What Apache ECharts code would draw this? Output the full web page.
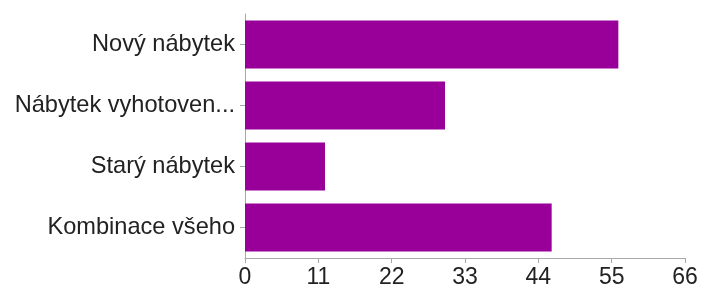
<!DOCTYPE html>
<html>
<head>
<meta charset="utf-8">
<script src="https://cdn.jsdelivr.net/npm/echarts@6/dist/echarts.min.js"></script>
<style>
  html, body { margin: 0; padding: 0; background: #fff; }
  #chart { width: 702px; height: 291px; }
</style>
</head>
<body>
<div id="chart"></div>
<script>
// data
var categories = ["Nový nábytek", "Nábytek vyhotoven...", "Starý nábytek", "Kombinace všeho"]
var values = [56, 30, 12, 46]
var xTicks = [0, 11, 22, 33, 44, 55, 66]

var myChart = echarts.init(document.getElementById("chart"))
var font = "Liberation Sans, Arial, sans-serif"

var option = {
  backgroundColor: "#ffffff",
  animation: false,
  grid: {
    left: 245,
    right: 17,
    top: 14,
    bottom: 33,
    containLabel: false
  },
  xAxis: {
    type: "value",
    min: xTicks[0],
    max: xTicks[xTicks.length - 1],
    interval: 11,
    splitLine: { show: false },
    axisLine: { show: true, lineStyle: { color: "#a8a8a8", width: 1 } },
    axisTick: { show: true, length: 5, lineStyle: { color: "#a8a8a8" } },
    axisLabel: {
      color: "#222",
      fontSize: 23,
      fontFamily: font,
      margin: 8
    }
  },
  yAxis: {
    type: "category",
    inverse: true,
    data: categories,
    axisLine: { show: true, lineStyle: { color: "#a8a8a8", width: 1 } },
    axisTick: { show: true, alignWithLabel: true, length: 5, lineStyle: { color: "#a8a8a8" } },
    axisLabel: {
      color: "#222",
      fontSize: 23.6,
      fontFamily: font,
      margin: 10
    }
  },
  series: [
    {
      type: "bar",
      data: values,
      barWidth: 48,
      itemStyle: { color: "#990099" },
      silent: true
    }
  ]
}
myChart.setOption(option)
</script>
</body>
</html>
